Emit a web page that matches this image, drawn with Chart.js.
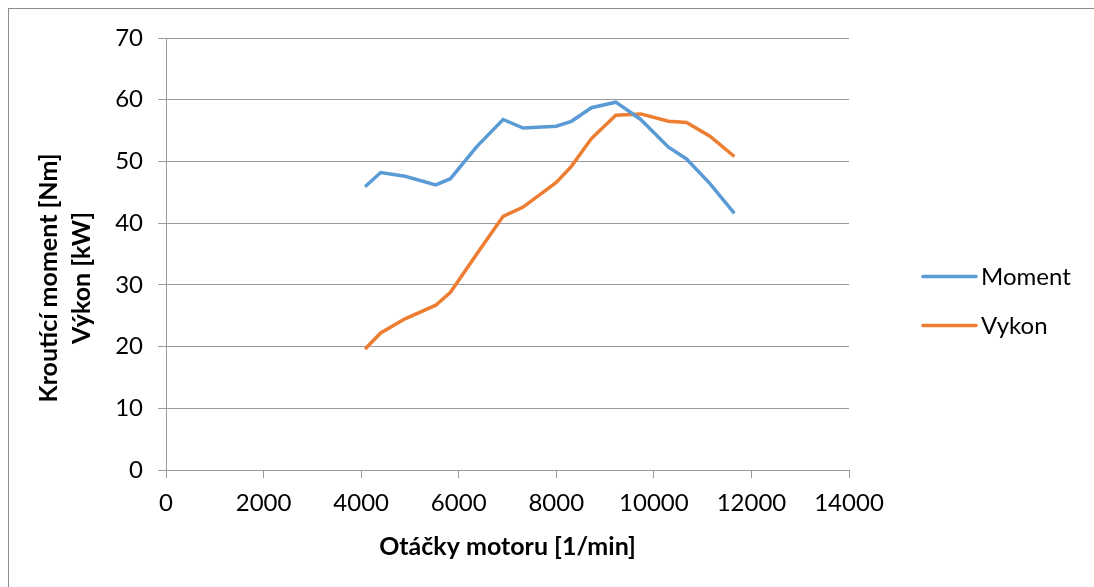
<!DOCTYPE html>
<html>
<head>
<meta charset="utf-8">
<script src="https://cdn.jsdelivr.net/npm/chart.js@4.4.1/dist/chart.umd.min.js"></script>
<style>
  html, body { margin: 0; padding: 0; background: #fff; }
  #wrap { width: 1094px; height: 587px; }
</style>
</head>
<body>
<div id="wrap"><canvas id="myChart" width="1094" height="587"></canvas></div>
<script>
// otacky [1/min]
const rpm = [4080, 4400, 4900, 5530, 5830, 6370, 6910, 7320, 8000, 8310, 8720, 9220, 9730, 10300, 10670, 11150, 11650];
// krouticí moment [Nm]
const moment = [45.9, 48.2, 47.6, 46.2, 47.2, 52.4, 56.8, 55.4, 55.7, 56.5, 58.7, 59.6, 56.8, 52.3, 50.4, 46.4, 41.6];
// vykon [kW]
const vykon = [19.6, 22.2, 24.5, 26.7, 28.8, 35.0, 41.1, 42.6, 46.6, 49.2, 53.7, 57.5, 57.7, 56.5, 56.3, 54.1, 50.8];

const xTicks = [0, 2000, 4000, 6000, 8000, 10000, 12000, 14000];
const yTitle = ["Kroutící moment [Nm]", "Výkon [kW]"];
const yMax = 70;

const FONT = "Lato, 'Open Sans', sans-serif";
const BLUE = "#5b9bd5";
const ORANGE = "#ed7d31";
const GRID = "#9a9a9a";

const toPoints = (vals) => rpm.map((r, i) => ({ x: r, y: vals[i] }));

// outer frame of the chart object
const framePlugin = {
  id: "frame",
  beforeDraw(chart) {
    const c = chart.ctx;
    c.save();
    c.fillStyle = "#fff";
    c.fillRect(0, 0, chart.width, chart.height);
    c.strokeStyle = "#8c8c8c";
    c.lineWidth = 1;
    c.strokeRect(8.5, 8.5, chart.width, chart.height);
    c.restore();
  },
};

// vertical axis title, two lines, sits a bit below the plot middle
const yTitlePlugin = {
  id: "yTitle",
  afterDraw(chart) {
    const c = chart.ctx;
    c.save();
    c.translate(49, 278);
    c.rotate(-Math.PI / 2);
    c.font = `bold 25px ${FONT}`;
    c.fillStyle = "#000";
    c.textAlign = "center";
    c.textBaseline = "middle";
    yTitle.forEach((line, i) => c.fillText(line, 0, i * 33));
    c.restore();
  },
};

// legend on the right, line sample + label
const legendPlugin = {
  id: "sideLegend",
  afterDraw(chart) {
    const c = chart.ctx;
    const x0 = chart.chartArea.right + 74;
    c.save();
    c.font = `24px ${FONT}`;
    c.textBaseline = "middle";
    chart.data.datasets.forEach((ds, i) => {
      const y = 276.5 + i * 49;
      c.strokeStyle = ds.borderColor;
      c.lineWidth = 3.5;
      c.lineCap = "round";
      c.beginPath();
      c.moveTo(x0, y);
      c.lineTo(x0 + 53, y);
      c.stroke();
      c.fillStyle = "#000";
      c.fillText(ds.label, x0 + 58, y + 1);
    });
    c.restore();
  },
};

const ctx = document.querySelector("canvas#myChart").getContext("2d");
const myChart = new Chart(ctx, {
  type: "line",
  data: {
    datasets: [
      {
        label: "Moment",
        data: toPoints(moment),
        borderColor: BLUE,
        backgroundColor: BLUE,
        borderWidth: 3.5,
        pointRadius: 0,
        tension: 0,
      },
      {
        label: "Vykon",
        data: toPoints(vykon),
        borderColor: ORANGE,
        backgroundColor: ORANGE,
        borderWidth: 3.5,
        pointRadius: 0,
        tension: 0,
      },
    ],
  },
  options: {
    responsive: false,
    animation: false,
    layout: { padding: { top: 38, right: 245, left: 0, bottom: 0 } },
    plugins: {
      legend: { display: false },
      tooltip: { enabled: false },
    },
    scales: {
      x: {
        type: "linear",
        min: 0,
        max: 14000,
        afterBuildTicks: (scale) => {
          scale.ticks = xTicks.map((v) => ({ value: v }));
        },
        afterFit: (scale) => {
          scale.height = 117;
        },
        border: { color: GRID, width: 1 },
        grid: { drawOnChartArea: false, drawTicks: true, tickLength: 8, color: GRID },
        ticks: {
          color: "#000",
          font: { family: FONT, size: 24 },
          padding: 11,
          maxRotation: 0,
          autoSkip: false,
          callback: (v) => String(v),
        },
        title: {
          display: true,
          text: "Otáčky motoru [1/min]",
          color: "#000",
          font: { family: FONT, size: 25, weight: "bold" },
          padding: { top: 0, bottom: 25 },
        },
      },
      y: {
        min: 0,
        max: yMax,
        afterFit: (scale) => {
          scale.width = 166;
        },
        border: { color: GRID, width: 1 },
        grid: { color: GRID, tickLength: 8 },
        ticks: {
          stepSize: 10,
          color: "#000",
          font: { family: FONT, size: 24 },
          padding: 15,
        },
      },
    },
  },
  plugins: [framePlugin, yTitlePlugin, legendPlugin],
});
</script>
</body>
</html>
